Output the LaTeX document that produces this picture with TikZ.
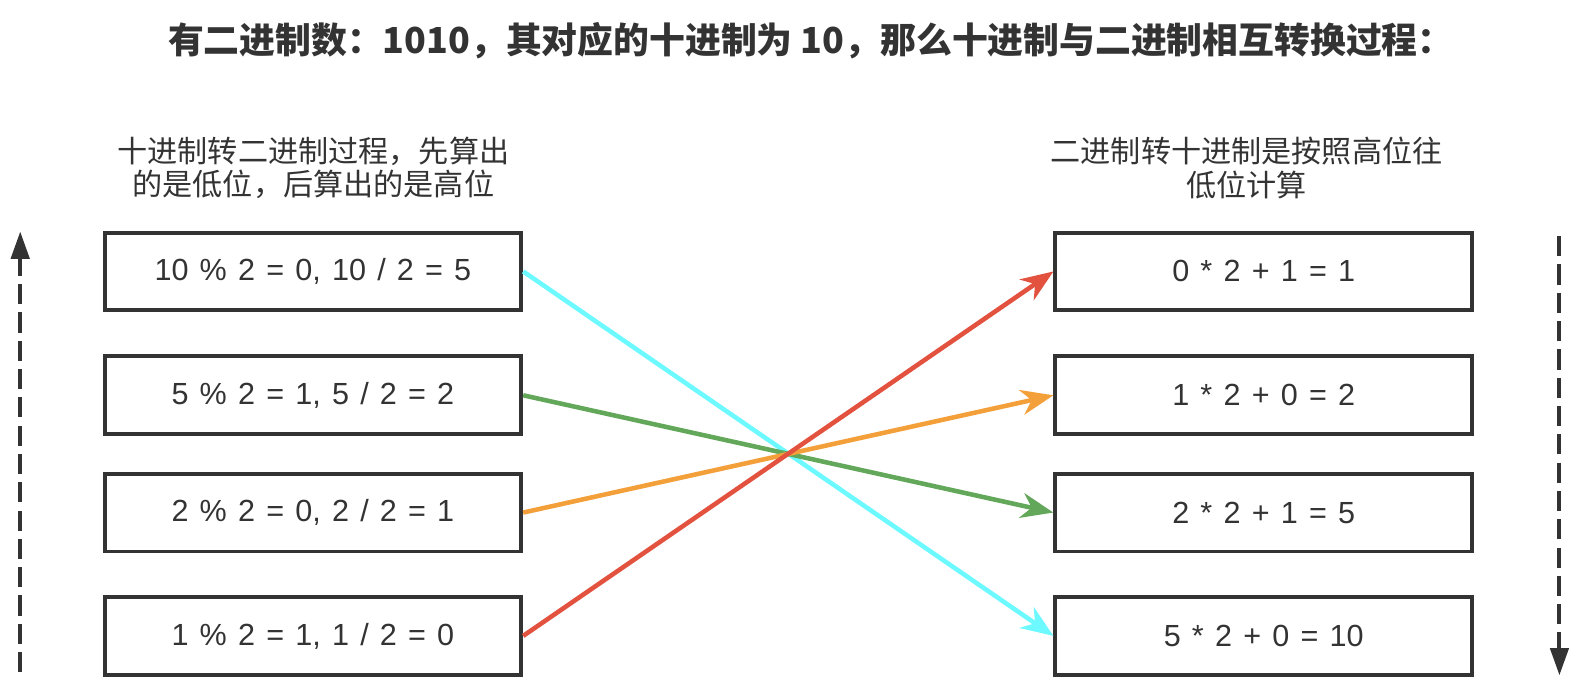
\documentclass[tikz,border=0pt]{standalone}
\usepackage{fontspec}
\setmainfont{Liberation Sans}[WordSpace=1.32]
\newfontfamily\cjk{Noto Sans CJK SC}
\usetikzlibrary{arrows.meta}

\definecolor{inkgray}{RGB}{51,51,51}
\definecolor{cyanline}{RGB}{108,249,255}
\definecolor{greenline}{RGB}{99,168,90}
\definecolor{orangeline}{RGB}{244,160,58}
\definecolor{redline}{RGB}{226,82,63}

\tikzset{
  calcbox/.style={draw=inkgray, text=inkgray, line width=2.8pt, inner sep=0pt,
    minimum width=10.3cm, minimum height=1.925cm, font=\fontsize{21.5}{26}\selectfont},
  heading/.style={text=inkgray, align=center, font=\cjk\fontsize{21.2}{23.5}\selectfont},
  link/.style={line width=3.2pt, -{Stealth[length=0.8cm, width=0.62cm, inset=0.25cm]}},
  flow/.style={draw=inkgray, line width=2.8pt, dash pattern=on 0.5cm off 0.2cm,
    -{Triangle[length=0.675cm, width=0.45cm]}}
}

\begin{document}
\begin{tikzpicture}[x=0.025cm, y=-0.025cm]
\useasboundingbox (0,0) rectangle (1566.8,690.4);

%Title
\node [text=inkgray, font=\cjk\bfseries\fontsize{25.2}{28}\selectfont] (title) at (802,40)
  {有二进制数：1010，其对应的十进制为 10，那么十进制与二进制相互转换过程：};

%Headings
\node [heading] (lefthead) at (310,166) {十进制转二进制过程，先算出\\的是低位，后算出的是高位};
\node [heading] (righthead) at (1233,166) {二进制转十进制是按照高位往\\低位计算};

%Left Boxes (decimal to binary)
\foreach \n/\y/\calc in {1/268.5/{10 \% 2 = 0, 10 / 2 = 5},
                         2/391/{5 \% 2 = 1, 5 / 2 = 2},
                         3/507/{2 \% 2 = 0, 2 / 2 = 1},
                         4/629/{1 \% 2 = 1, 1 / 2 = 0}}
  \node [calcbox] (l\n) at (309.5,\y) {\calc};

%Right Boxes (binary to decimal)
\foreach \n/\y/\calc in {1/268.5/{0 * 2 + 1 = 1},
                         2/391/{1 * 2 + 0 = 2},
                         3/507/{2 * 2 + 1 = 5},
                         4/629/{5 * 2 + 0 = 10}}
  \node [calcbox] (r\n) at (1250,\y) {\calc};

%Crossing Arrows
\draw [link, cyanline]   (l1.east) -- (r4.west);
\draw [link, greenline]  (l2.east) -- (r3.west);
\draw [link, orangeline] (l3.east) -- (r2.west);
\draw [link, redline]    (l4.east) -- (r1.west);

%Dashed Arrows
\coordinate (upstart) at (20,665);
\coordinate (upend) at (20,229);
\draw [flow] (upstart) -- (upend);
\coordinate (downstart) at (1542.5,233.5);
\coordinate (downend) at (1542.5,668);
\draw [flow] (downstart) -- (downend);

\end{tikzpicture}
\end{document}
